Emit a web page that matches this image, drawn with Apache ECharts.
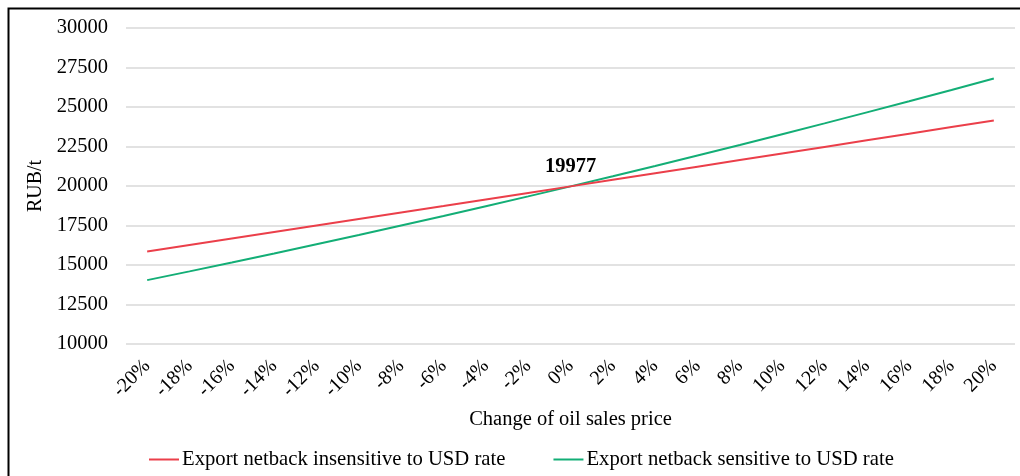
<!DOCTYPE html>
<html>
<head>
<meta charset="utf-8">
<script src="https://cdn.jsdelivr.net/npm/echarts@6/dist/echarts.min.js"></script>
<style>
  html, body { margin: 0; padding: 0; background: #fff; }
  #chart { width: 1020px; height: 476px; }
</style>
</head>
<body>
<div id="chart"></div>
<script>
// categories: change of oil sales price
var categories = ["-20%", "-18%", "-16%", "-14%", "-12%", "-10%", "-8%", "-6%", "-4%", "-2%", "0%",
  "2%", "4%", "6%", "8%", "10%", "12%", "14%", "16%", "18%", "20%"];

// RUB/t
var insensitive = [15850, 16261, 16672, 17083, 17495, 17908, 18321, 18734, 19148, 19562, 19977,
  20392, 20808, 21224, 21641, 22058, 22475, 22893, 23312, 23731, 24150];
var sensitive = [14043, 14596, 15159, 15730, 16310, 16899, 17497, 18103, 18719, 19344, 19977,
  20619, 21271, 21931, 22599, 23277, 23964, 24660, 25365, 26079, 26800];

var seriesNames = ["Export netback insensitive to USD rate", "Export netback sensitive to USD rate"];
var baseIndex = 10; // 0% point, labelled

var font = "'Liberation Serif', 'DejaVu Serif', serif";
var chart = echarts.init(document.getElementById("chart"));

chart.setOption({
  animation: false,
  textStyle: { fontFamily: font },
  graphic: [
    {
      type: "rect",
      shape: { x: 8.5, y: 8.5, width: 1030, height: 480 },
      style: { fill: "none", stroke: "#000", lineWidth: 2 },
      silent: true
    }
  ],
  legend: {
    bottom: 1,
    left: 144,
    itemWidth: 30,
    itemHeight: 2,
    itemGap: 48,
    icon: "rect",
    textStyle: { fontFamily: font, fontSize: 20.7, color: "#000", padding: [0, 0, 0, -2] },
    data: seriesNames
  },
  grid: {
    left: 126,
    right: 5,
    top: 28,
    bottom: 132
  },
  xAxis: {
    type: "category",
    data: categories,
    boundaryGap: true,
    name: "Change of oil sales price",
    nameLocation: "middle",
    nameGap: 65,
    nameTextStyle: { fontFamily: font, fontSize: 20.5, color: "#000" },
    axisLine: { show: false },
    axisTick: { show: false },
    axisLabel: {
      rotate: 45,
      interval: 0,
      margin: 19,
      fontFamily: font,
      fontSize: 20,
      color: "#000"
    }
  },
  yAxis: {
    type: "value",
    min: 10000,
    max: 30000,
    interval: 2500,
    name: "RUB/t",
    nameLocation: "middle",
    nameGap: 77,
    nameTextStyle: { fontFamily: font, fontSize: 20, color: "#000" },
    axisLine: { show: false },
    axisTick: { show: false },
    axisLabel: {
      margin: 18,
      fontFamily: font,
      fontSize: 20.5,
      color: "#000",
      formatter: function (v) { return String(v); }
    },
    splitLine: { lineStyle: { color: "#d9d9d9", width: 1.5 } }
  },
  series: [
    {
      name: seriesNames[0],
      type: "line",
      data: insensitive,
      symbol: "none",
      lineStyle: { color: "#eb3f4a", width: 2 },
      itemStyle: { color: "#eb3f4a" },
      z: 3,
      markPoint: {
        symbol: "circle",
        symbolSize: 0,
        data: [{ coord: [baseIndex, insensitive[baseIndex]], value: insensitive[baseIndex] }],
        label: {
          show: true,
          position: "top",
          distance: 9,
          fontFamily: font,
          fontSize: 20.5,
          fontWeight: "bold",
          color: "#000"
        }
      }
    },
    {
      name: seriesNames[1],
      type: "line",
      data: sensitive,
      symbol: "none",
      lineStyle: { color: "#13ae76", width: 2 },
      itemStyle: { color: "#13ae76" },
      z: 2
    }
  ]
});
</script>
</body>
</html>
